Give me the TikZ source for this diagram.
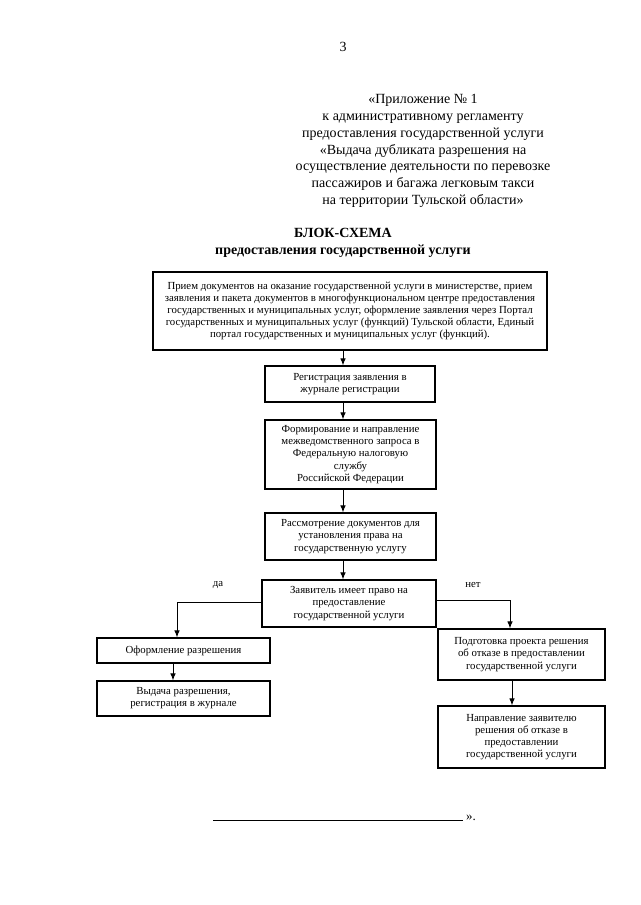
\documentclass[tikz,border=0pt]{standalone}
\usepackage{fontspec}
\setmainfont{Liberation Serif}
\usetikzlibrary{arrows.meta,calc}
\begin{document}
\begin{tikzpicture}[x=1pt,y=-1pt,
  boxtext/.style={draw,line width=1.1pt,align=center,inner sep=0pt,
    font=\fontsize{10.8}{12.2}\selectfont},
  arr/.style={line width=1pt,-{Latex[length=7pt,width=5.5pt]}},
  conn/.style={line width=1pt},
  head/.style={align=center,font=\fontsize{14}{16.8}\selectfont},
  lbl/.style={font=\fontsize{10.8}{12}\selectfont,inner sep=0pt}]
\useasboundingbox (0,0) rectangle (640,905);
\node[head] (pg) at (343,47) {3};
\node[head,anchor=north] (hdr) at (423,91) {«Приложение № 1\\
к административному регламенту\\
предоставления государственной услуги\\
«Выдача дубликата разрешения на\\
осуществление деятельности по перевозке\\
пассажиров и багажа легковым такси\\
на территории Тульской области»};
\node[head,font=\bfseries\fontsize{14}{17}\selectfont,anchor=north] (title) at (343,225) {БЛОК-СХЕМА\\предоставления государственной услуги};

\node[boxtext,minimum width=394,minimum height=78] (b1) at (350,311) {Прием документов на оказание государственной услуги в министерстве, прием\\
заявления и пакета документов в многофункциональном центре предоставления\\
государственных и муниципальных услуг, оформление заявления через Портал\\
государственных и муниципальных услуг (функций) Тульской области, Единый\\
портал государственных и муниципальных услуг (функций).};
\node[boxtext,minimum width=170,minimum height=36] (b2) at (350,384) {Регистрация заявления в\\журнале регистрации};
\node[boxtext,minimum width=171,minimum height=69] (b3) at (350.5,454.5) {Формирование и направление\\межведомственного запроса в\\Федеральную налоговую\\службу\\Российской Федерации};
\node[boxtext,minimum width=171,minimum height=47] (b4) at (350.5,536.5) {Рассмотрение документов для\\установления права на\\государственную услугу};
\node[boxtext,minimum width=174,minimum height=47] (b5) at (349,603.5) {Заявитель имеет право на\\предоставление\\государственной услуги};
\node[boxtext,minimum width=173,minimum height=25] (b6) at (183.5,650.5) {Оформление разрешения};
\node[boxtext,minimum width=173,minimum height=35] (b7) at (183.5,698.5) {Выдача разрешения,\\регистрация в журнале};
\node[boxtext,minimum width=167,minimum height=51] (b8) at (521.5,654.5) {Подготовка проекта решения\\об отказе в предоставлении\\государственной услуги};
\node[boxtext,minimum width=167,minimum height=62] (b9) at (521.5,737) {Направление заявителю\\решения об отказе в\\предоставлении\\государственной услуги};

\coordinate (ax) at (343,0);
\coordinate (lx) at (177,602);
\coordinate (lx2) at (173,0);
\coordinate (rx) at (510,600);
\coordinate (rx2) at (512,0);

\draw[arr] (b1.south -| ax) -- (b2.north -| ax);
\draw[arr] (b2.south -| ax) -- (b3.north -| ax);
\draw[arr] (b3.south -| ax) -- (b4.north -| ax);
\draw[arr] (b4.south -| ax) -- (b5.north -| ax);
\draw[arr] (b5.west |- lx) -- (lx) -- (b6.north -| lx);
\draw[arr] (b5.east |- rx) -- (rx) -- (b8.north -| rx);
\draw[arr] (b6.south -| lx2) -- (b7.north -| lx2);
\draw[arr] (b8.south -| rx2) -- (b9.north -| rx2);

\node[lbl] (da) at (218,585) {да};
\node[lbl] (net) at (473,585) {нет};

\coordinate (f1) at (213,820);
\coordinate (f2) at (463,820);
\draw[conn] (f1) -- (f2);
\node[lbl,font=\fontsize{13}{15}\selectfont,anchor=base west] (end) at (466,820) {».};
\end{tikzpicture}
\end{document}
